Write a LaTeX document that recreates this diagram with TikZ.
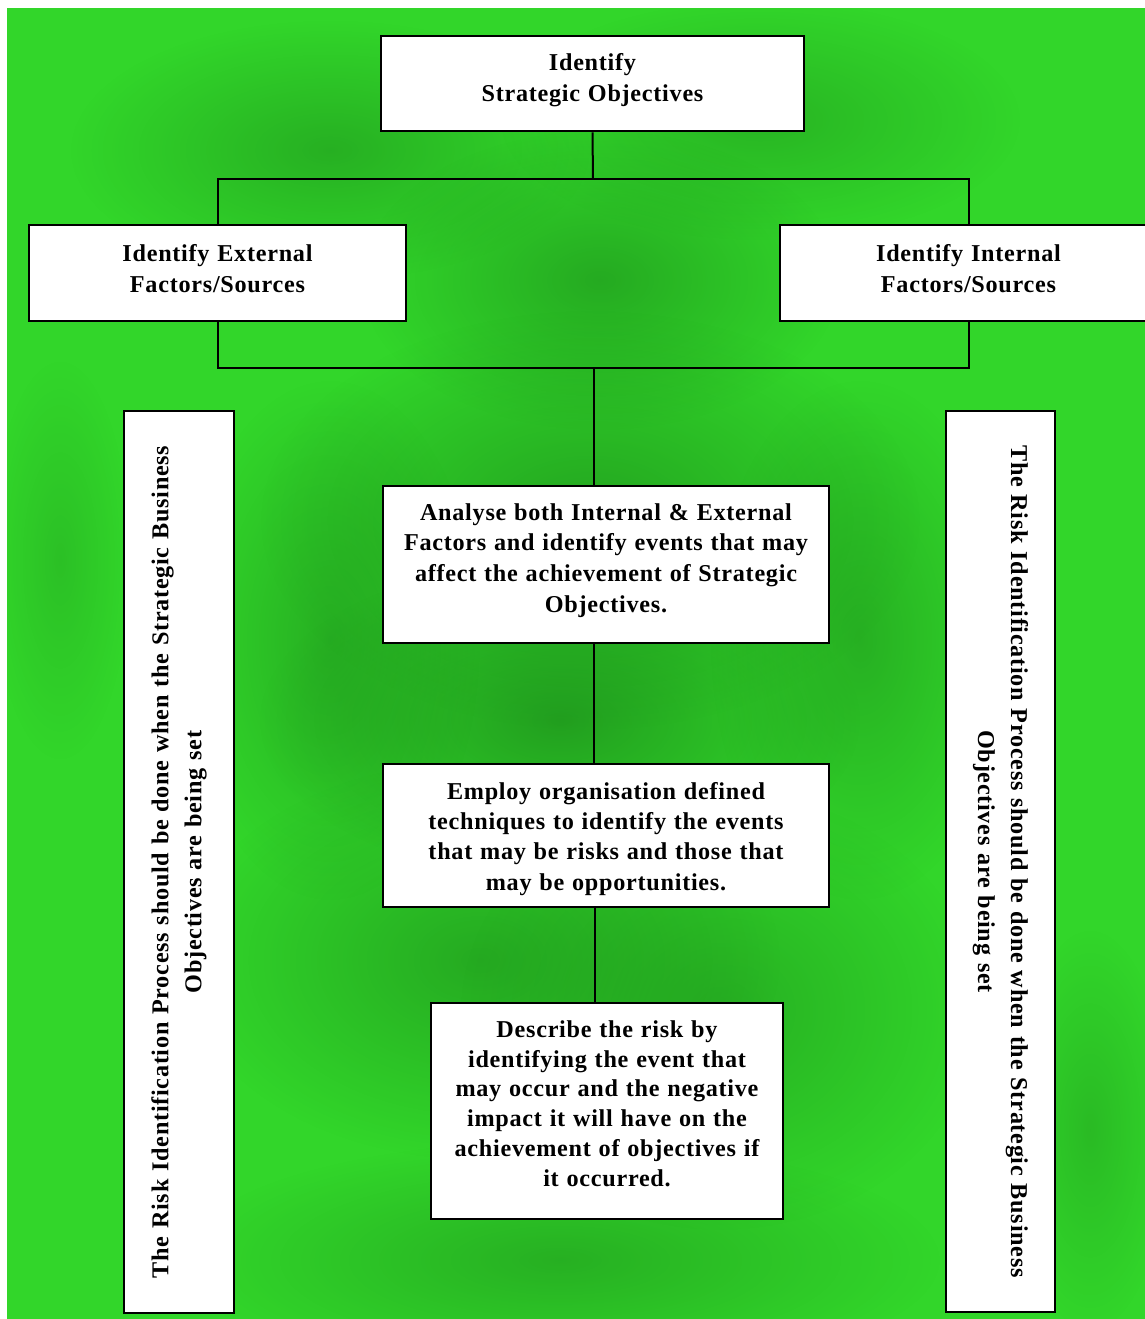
\documentclass[tikz,border=0pt]{standalone}
\usepackage{fontspec}
\setmainfont{Liberation Serif}[LetterSpace=3,WordSpace=1.15]
\usetikzlibrary{fadings}
\definecolor{grass}{RGB}{50,214,42}
\definecolor{grassdark}{RGB}{18,105,20}
\tikzfading[name=softblob,inner color=transparent!0,outer color=transparent!100]
\begin{document}
\begin{tikzpicture}[x=0.5pt,y=-0.5pt,
  box/.style={draw=black,line width=1.3pt,fill=white,inner sep=0pt},
  words/.style={inner sep=0pt,align=center,
    font=\fontsize{12.1}{#1}\selectfont\bfseries},
  words/.default=15.4pt,
  sidebox/.style={box,align=center,font=\fontsize{12.1}{16.5}\selectfont\bfseries},
  link/.style={draw=black,line width=1pt}]
  % page and green backdrop
  \useasboundingbox (0,0) rectangle (1145,1319);
  \fill[white] (0,0) rectangle (1145,1319);
  \fill[grass] (7,8) rectangle (1145,1319);
  \begin{scope}
    \clip (7,8) rectangle (1145,1319);
    \foreach \cx/\cy/\rx/\ry/\op in {
      330/150/260/130/0.35, 760/120/260/120/0.3, 600/280/240/150/0.4,
      590/520/330/210/0.45, 560/720/300/160/0.5, 480/960/300/200/0.4,
      720/1010/260/220/0.35, 330/640/150/260/0.35, 860/640/150/260/0.35,
      560/1260/380/120/0.35, 1090/1130/80/200/0.25, 60/560/70/200/0.2}
      \fill[grassdark,opacity=\op,path fading=softblob] (\cx,\cy) ellipse [x radius=\rx,y radius=\ry];
  \end{scope}

  % process boxes
  \node[box,minimum width=211.5pt,minimum height=47.5pt] (top) at (592.5,83.5) {};
  \node[words] (topT) at ([yshift=1.8pt]top.center)
    {Identify\\Strategic Objectives};
  \node[box,minimum width=188.5pt,minimum height=48pt] (ext) at (217.5,273) {};
  \node[words] (extT) at ([yshift=2.2pt]ext.center)
    {Identify External\\Factors/Sources};
  \node[box,minimum width=188.5pt,minimum height=48pt] (int) at (968.5,273) {};
  \node[words] (intT) at ([yshift=2.2pt]int.center)
    {Identify Internal\\Factors/Sources};
  \node[box,minimum width=223pt,minimum height=78.5pt] (analyse) at (606,564.5) {};
  \node[words] (analyseT) at ([yshift=2pt]analyse.center)
    {Analyse both Internal \& External\\Factors and identify events that may\\
     affect the achievement of Strategic\\Objectives.};
  \node[box,minimum width=223pt,minimum height=71.5pt] (employ) at (606,835.5) {};
  \node[words=15.15pt] (employT) at ([yshift=-1.7pt]employ.center)
    {Employ organisation defined\\techniques to identify the events\\
     that may be risks and those that\\may be opportunities.};
  \node[box,minimum width=176pt,minimum height=108pt] (describe) at (607,1111) {};
  \node[words=14.9pt] (describeT) at ([yshift=3.7pt]describe.center)
    {Describe the risk by\\identifying the event that\\may occur and the negative\\
     impact it will have on the\\achievement of objectives if\\it occurred.};

  % side notes
  \node[sidebox,rotate=90,minimum width=451pt,minimum height=55pt] (leftnote) at (179,862)
    {The Risk Identification Process should be done when the Strategic Business\\
     Objectives are being set};
  \node[sidebox,rotate=-90,minimum width=450.5pt,minimum height=54.5pt] (rightnote) at (1000.5,861.5)
    {The Risk Identification Process should be done when the Strategic Business\\
     Objectives are being set};

  % connectors
  \coordinate (split) at (593,179);
  \coordinate (merge) at (594,368);
  \coordinate (spine) at (595,0);
  \draw[link] (top.south) -- (split);
  \draw[link] (ext.north) |- (split) -| (int.north);
  \draw[link] (ext.south) |- (merge) -| (int.south);
  \draw[link] (merge) -- (merge |- analyse.north);
  \draw[link] (analyse.south -| merge) -- (employ.north -| merge);
  \draw[link] (employ.south -| spine) -- (describe.north -| spine);
\end{tikzpicture}
\end{document}
